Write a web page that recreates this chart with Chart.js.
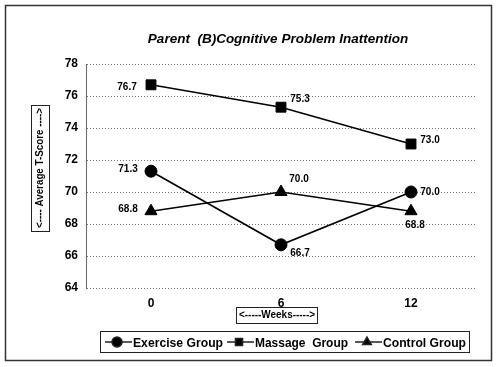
<!DOCTYPE html>
<html>
<head>
<meta charset="utf-8">
<script src="https://cdn.jsdelivr.net/npm/chart.js@4"></script>
<style>
  html, body { margin: 0; padding: 0; background: #fff; }
  #wrap { width: 496px; height: 367px; position: relative; }
</style>
</head>
<body>
<div id="wrap"><canvas id="grafica" width="496" height="367"></canvas></div>
<script>
// === DATOS ===
const semanas = ['0', '6', '12'];
const exercise = [71.3, 66.7, 70.0];
const massage  = [76.7, 75.3, 73.0];
const control  = [68.8, 70.0, 68.8];
const titulo = 'Parent  (B)Cognitive Problem Inattention';
const tituloY = '<---- Average T-Score ---->';
const tituloX = '<-----Weeks----->';

// offsets de las etiquetas de valor [dx, dy] por serie
const offsets = [
  [[-23, -2], [19, 8], [19, 0]],     // exercise
  [[-24, 2], [19, -8], [19, -4]],    // massage
  [[-23, -2], [18, -13], [4, 14]]    // control
];

const FONT = 'Liberation Sans, Arial, sans-serif';

// Plugin: marco, título, cajas de ejes, leyenda y etiquetas
const decoraciones = {
  id: 'decoraciones',
  afterDraw(chart) {
    const ctx = chart.ctx;
    ctx.save();
    // marco exterior
    ctx.strokeStyle = '#333';
    ctx.lineWidth = 1.5;
    ctx.strokeRect(5.5, 5.5, 486, 355);

    // título
    ctx.fillStyle = '#000';
    ctx.font = 'italic bold 13.5px ' + FONT;
    ctx.textAlign = 'center';
    ctx.textBaseline = 'middle';
    ctx.fillText(titulo, 278, 39);

    // caja eje Y
    ctx.lineWidth = 1;
    ctx.strokeStyle = '#222';
    ctx.strokeRect(31.5, 105.5, 18, 126);
    ctx.save();
    ctx.translate(40.5, 168);
    ctx.rotate(-Math.PI / 2);
    ctx.font = 'bold 10px ' + FONT;
    ctx.fillText(tituloY, 0, 0, 120);
    ctx.restore();

    // caja eje X
    ctx.strokeRect(236.5, 307.5, 81, 16);
    ctx.font = 'bold 10px ' + FONT;
    ctx.fillText(tituloX, 277, 315.5, 76);

    // leyenda
    ctx.strokeRect(100.5, 331.5, 369, 21);
    const items = [
      { x: 105, label: 'Exercise Group', ds: 0, w: 90 },
      { x: 227, label: 'Massage  Group', ds: 1, w: 93 },
      { x: 355, label: 'Control Group', ds: 2, w: 83 }
    ];
    ctx.font = 'bold 13px ' + FONT;
    ctx.textAlign = 'left';
    items.forEach(it => {
      const y = 342;
      ctx.lineWidth = 1.5;
      ctx.beginPath();
      ctx.moveTo(it.x, y);
      ctx.lineTo(it.x + 27, y);
      ctx.stroke();
      const ds = chart.data.datasets[it.ds];
      Chart.helpers.drawPoint(ctx, {
        pointStyle: ds.pointStyle, radius: 5, borderWidth: 1, rotation: 0
      }, it.x + 12, y);
      ctx.fillText(it.label, it.x + 28, y + 1, it.w);
    });

    // etiquetas de valores
    ctx.font = 'bold 10px ' + FONT;
    ctx.textAlign = 'center';
    chart.data.datasets.forEach((ds, i) => {
      const meta = chart.getDatasetMeta(i);
      meta.data.forEach((pt, j) => {
        const [dx, dy] = offsets[i][j];
        ctx.fillText(ds.data[j].toFixed(1), pt.x + dx, pt.y + dy);
      });
    });
    ctx.restore();
  }
};

const serie = (label, data, estilo, radio) => ({
  label, data,
  borderColor: '#000', backgroundColor: '#000',
  borderWidth: 1.6,
  pointStyle: estilo, pointRadius: radio, pointBorderWidth: 1,
  pointBackgroundColor: '#000', pointBorderColor: '#000',
  tension: 0
});

new Chart(document.getElementById('grafica'), {
  type: 'line',
  data: {
    labels: semanas,
    datasets: [
      serie('Exercise Group', exercise, 'circle', 6),
      serie('Massage  Group', massage, 'rect', 7),
      serie('Control Group', control, 'triangle', 7)
    ]
  },
  options: {
    responsive: false,
    animation: false,
    layout: { padding: { top: 64, left: 50, right: 20, bottom: 49 } },
    plugins: { legend: { display: false }, title: { display: false }, tooltip: { enabled: false } },
    scales: {
      x: {
        offset: true,
        grid: { display: false, drawTicks: false },
        border: { display: false },
        ticks: { color: '#000', font: { family: FONT, size: 12, weight: 'bold' }, padding: 8 },
        afterFit(s) { s.height = 30; }
      },
      y: {
        min: 64, max: 78,
        ticks: { stepSize: 2, color: '#000', font: { family: FONT, size: 12, weight: 'bold' }, padding: 8 },
        grid: { color: '#777', lineWidth: 1, drawTicks: false },
        border: { display: true, color: '#666', width: 1, dash: [1, 2] },
        afterFit(s) { s.width = 36; }
      }
    }
  },
  plugins: [decoraciones]
});
</script>
</body>
</html>
